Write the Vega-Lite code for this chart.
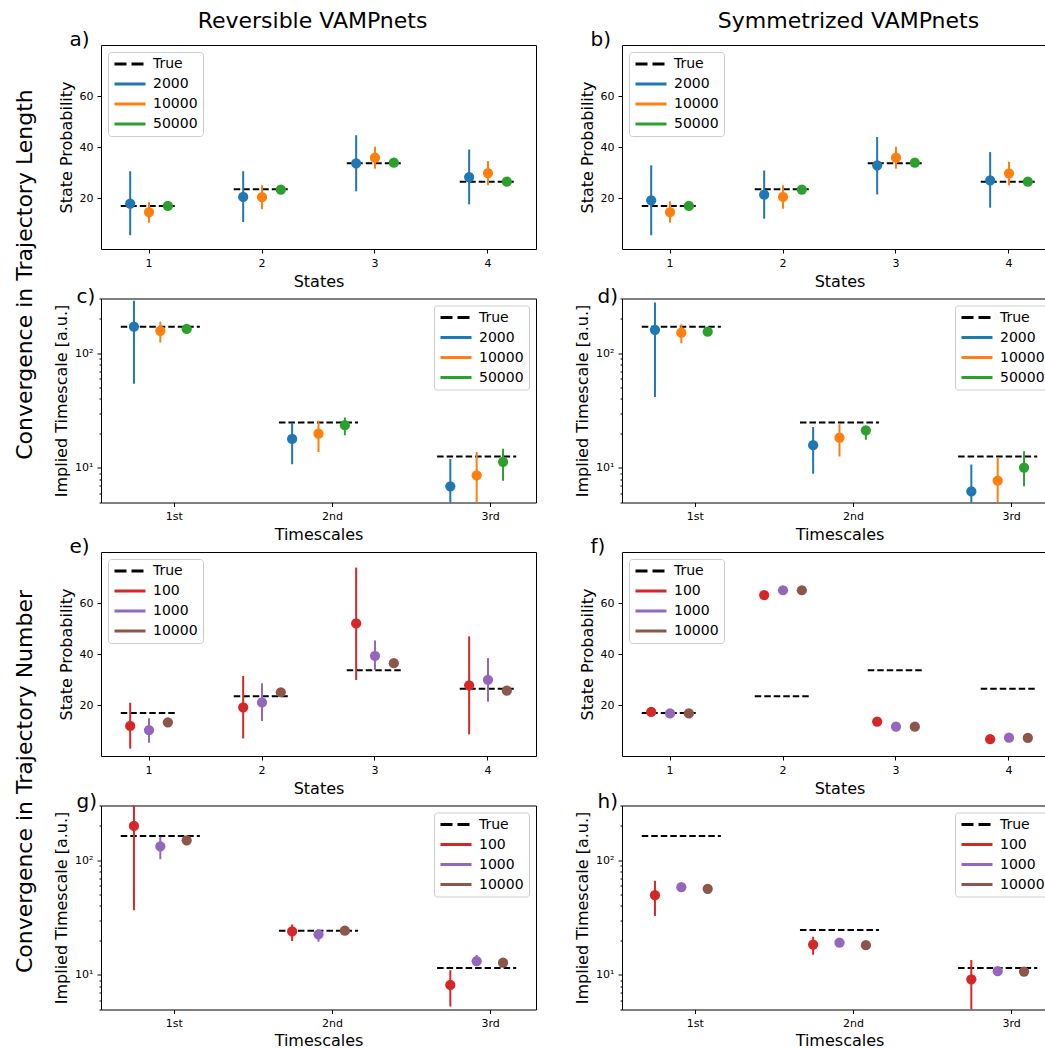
{
  "$schema": "https://vega.github.io/schema/vega-lite/v6.json",
  "background": "white",
  "padding": {"left": 12, "top": 8, "right": 0, "bottom": 0},
  "datasets": {
    "a": [
      {"state": "1", "series": "True", "value": 16.9},
      {"state": "2", "series": "True", "value": 23.4},
      {"state": "3", "series": "True", "value": 33.6},
      {"state": "4", "series": "True", "value": 26.4},
      {"state": "1", "series": "2000", "value": 17.8, "lo": 5.4, "hi": 30.5},
      {"state": "2", "series": "2000", "value": 20.4, "lo": 10.6, "hi": 30.5},
      {"state": "3", "series": "2000", "value": 33.6, "lo": 22.6, "hi": 44.6},
      {"state": "4", "series": "2000", "value": 28.2, "lo": 17.5, "hi": 39.0},
      {"state": "1", "series": "10000", "value": 14.5, "lo": 10.3, "hi": 18.4},
      {"state": "2", "series": "10000", "value": 20.3, "lo": 15.6, "hi": 25.0},
      {"state": "3", "series": "10000", "value": 35.8, "lo": 31.5, "hi": 40.1},
      {"state": "4", "series": "10000", "value": 29.8, "lo": 25.0, "hi": 34.5},
      {"state": "1", "series": "50000", "value": 16.9, "lo": 16.2, "hi": 17.6},
      {"state": "2", "series": "50000", "value": 23.3, "lo": 22.6, "hi": 24.0},
      {"state": "3", "series": "50000", "value": 33.9, "lo": 33.2, "hi": 34.6},
      {"state": "4", "series": "50000", "value": 26.4, "lo": 25.7, "hi": 27.1}
    ],
    "b": [
      {"state": "1", "series": "True", "value": 16.9},
      {"state": "2", "series": "True", "value": 23.4},
      {"state": "3", "series": "True", "value": 33.6},
      {"state": "4", "series": "True", "value": 26.4},
      {"state": "1", "series": "2000", "value": 19.1, "lo": 5.4, "hi": 32.8},
      {"state": "2", "series": "2000", "value": 21.3, "lo": 11.9, "hi": 30.8},
      {"state": "3", "series": "2000", "value": 32.8, "lo": 21.4, "hi": 43.9},
      {"state": "4", "series": "2000", "value": 26.9, "lo": 16.2, "hi": 38.0},
      {"state": "1", "series": "10000", "value": 14.5, "lo": 10.3, "hi": 18.7},
      {"state": "2", "series": "10000", "value": 20.4, "lo": 15.8, "hi": 25.0},
      {"state": "3", "series": "10000", "value": 35.8, "lo": 31.5, "hi": 40.1},
      {"state": "4", "series": "10000", "value": 29.7, "lo": 25.0, "hi": 34.2},
      {"state": "1", "series": "50000", "value": 16.9, "lo": 16.2, "hi": 17.6},
      {"state": "2", "series": "50000", "value": 23.3, "lo": 22.6, "hi": 24.0},
      {"state": "3", "series": "50000", "value": 33.9, "lo": 33.2, "hi": 34.6},
      {"state": "4", "series": "50000", "value": 26.4, "lo": 25.7, "hi": 27.1}
    ],
    "c": [
      {"ts": "1st", "series": "True", "value": 170},
      {"ts": "2nd", "series": "True", "value": 24.9},
      {"ts": "3rd", "series": "True", "value": 12.6},
      {"ts": "1st", "series": "2000", "value": 171, "lo": 54.3, "hi": 287},
      {"ts": "2nd", "series": "2000", "value": 17.9, "lo": 10.8, "hi": 24.8},
      {"ts": "3rd", "series": "2000", "value": 6.92, "lo": 4, "hi": 12.0},
      {"ts": "1st", "series": "10000", "value": 157, "lo": 124, "hi": 188},
      {"ts": "2nd", "series": "10000", "value": 19.9, "lo": 13.8, "hi": 25.8},
      {"ts": "3rd", "series": "10000", "value": 8.63, "lo": 4, "hi": 13.8},
      {"ts": "1st", "series": "50000", "value": 163, "lo": 158, "hi": 168},
      {"ts": "2nd", "series": "50000", "value": 23.6, "lo": 19.3, "hi": 27.5},
      {"ts": "3rd", "series": "50000", "value": 11.3, "lo": 7.74, "hi": 14.7}
    ],
    "d": [
      {"ts": "1st", "series": "True", "value": 170},
      {"ts": "2nd", "series": "True", "value": 24.9},
      {"ts": "3rd", "series": "True", "value": 12.6},
      {"ts": "1st", "series": "2000", "value": 160, "lo": 41.5, "hi": 277},
      {"ts": "2nd", "series": "2000", "value": 15.8, "lo": 8.9, "hi": 22.7},
      {"ts": "3rd", "series": "2000", "value": 6.25, "lo": 4, "hi": 10.7},
      {"ts": "1st", "series": "10000", "value": 151, "lo": 122, "hi": 179},
      {"ts": "2nd", "series": "10000", "value": 18.4, "lo": 12.6, "hi": 24.1},
      {"ts": "3rd", "series": "10000", "value": 7.74, "lo": 4, "hi": 12.4},
      {"ts": "1st", "series": "50000", "value": 154, "lo": 149, "hi": 159},
      {"ts": "2nd", "series": "50000", "value": 21.3, "lo": 17.6, "hi": 23.1},
      {"ts": "3rd", "series": "50000", "value": 10.07, "lo": 6.92, "hi": 14.0}
    ],
    "e": [
      {"state": "1", "series": "True", "value": 16.9},
      {"state": "2", "series": "True", "value": 23.4},
      {"state": "3", "series": "True", "value": 33.6},
      {"state": "4", "series": "True", "value": 26.4},
      {"state": "1", "series": "100", "value": 11.8, "lo": 2.9, "hi": 20.9},
      {"state": "2", "series": "100", "value": 19.1, "lo": 6.9, "hi": 31.4},
      {"state": "3", "series": "100", "value": 52.0, "lo": 29.8, "hi": 73.9},
      {"state": "4", "series": "100", "value": 27.7, "lo": 8.5, "hi": 46.9},
      {"state": "1", "series": "1000", "value": 10.1, "lo": 5.2, "hi": 14.8},
      {"state": "2", "series": "1000", "value": 21.0, "lo": 13.7, "hi": 28.5},
      {"state": "3", "series": "1000", "value": 39.3, "lo": 33.7, "hi": 45.3},
      {"state": "4", "series": "1000", "value": 29.9, "lo": 21.3, "hi": 38.4},
      {"state": "1", "series": "10000", "value": 13.2, "lo": 12.5, "hi": 13.9},
      {"state": "2", "series": "10000", "value": 25.0, "lo": 24.3, "hi": 25.7},
      {"state": "3", "series": "10000", "value": 36.4, "lo": 35.7, "hi": 37.1},
      {"state": "4", "series": "10000", "value": 25.6, "lo": 24.9, "hi": 26.3}
    ],
    "f": [
      {"state": "1", "series": "True", "value": 16.9},
      {"state": "2", "series": "True", "value": 23.4},
      {"state": "3", "series": "True", "value": 33.6},
      {"state": "4", "series": "True", "value": 26.4},
      {"state": "1", "series": "100", "value": 17.3, "lo": 16.8, "hi": 17.8},
      {"state": "2", "series": "100", "value": 63.1, "lo": 62.6, "hi": 63.6},
      {"state": "3", "series": "100", "value": 13.5, "lo": 13.0, "hi": 14.0},
      {"state": "4", "series": "100", "value": 6.6, "lo": 6.1, "hi": 7.1},
      {"state": "1", "series": "1000", "value": 16.7, "lo": 16.4, "hi": 17.0},
      {"state": "2", "series": "1000", "value": 65.0, "lo": 64.7, "hi": 65.3},
      {"state": "3", "series": "1000", "value": 11.5, "lo": 11.2, "hi": 11.8},
      {"state": "4", "series": "1000", "value": 7.2, "lo": 6.9, "hi": 7.5},
      {"state": "1", "series": "10000", "value": 16.7, "lo": 16.5, "hi": 16.9},
      {"state": "2", "series": "10000", "value": 65.0, "lo": 64.8, "hi": 65.2},
      {"state": "3", "series": "10000", "value": 11.5, "lo": 11.3, "hi": 11.7},
      {"state": "4", "series": "10000", "value": 7.1, "lo": 6.9, "hi": 7.3}
    ],
    "g": [
      {"ts": "1st", "series": "True", "value": 163},
      {"ts": "2nd", "series": "True", "value": 24.3},
      {"ts": "3rd", "series": "True", "value": 11.5},
      {"ts": "1st", "series": "100", "value": 199, "lo": 36.7, "hi": 330},
      {"ts": "2nd", "series": "100", "value": 24.0, "lo": 19.8, "hi": 27.6},
      {"ts": "3rd", "series": "100", "value": 8.19, "lo": 5.3, "hi": 11.0},
      {"ts": "1st", "series": "1000", "value": 132, "lo": 102, "hi": 160},
      {"ts": "2nd", "series": "1000", "value": 22.6, "lo": 19.5, "hi": 24.6},
      {"ts": "3rd", "series": "1000", "value": 13.2, "lo": 12.2, "hi": 14.9},
      {"ts": "1st", "series": "10000", "value": 149, "lo": 145, "hi": 153},
      {"ts": "2nd", "series": "10000", "value": 24.3, "lo": 23.8, "hi": 24.8},
      {"ts": "3rd", "series": "10000", "value": 12.8, "lo": 12.5, "hi": 13.1}
    ],
    "h": [
      {"ts": "1st", "series": "True", "value": 163},
      {"ts": "2nd", "series": "True", "value": 24.6},
      {"ts": "3rd", "series": "True", "value": 11.5},
      {"ts": "1st", "series": "100", "value": 49.6, "lo": 32.6, "hi": 66.1},
      {"ts": "2nd", "series": "100", "value": 18.4, "lo": 15.0, "hi": 21.5},
      {"ts": "3rd", "series": "100", "value": 9.17, "lo": 4, "hi": 13.5},
      {"ts": "1st", "series": "1000", "value": 58.2, "lo": 56.5, "hi": 60.0},
      {"ts": "2nd", "series": "1000", "value": 19.1, "lo": 18.6, "hi": 19.6},
      {"ts": "3rd", "series": "1000", "value": 10.8, "lo": 10.5, "hi": 11.1},
      {"ts": "1st", "series": "10000", "value": 56.3, "lo": 54.7, "hi": 58.0},
      {"ts": "2nd", "series": "10000", "value": 18.2, "lo": 17.7, "hi": 18.7},
      {"ts": "3rd", "series": "10000", "value": 10.7, "lo": 10.4, "hi": 11.0}
    ]
  },
  "columns": 2,
  "bounds": "flush",
  "spacing": {"row": 49.5, "column": 86},
  "resolve": {"scale": {"color": "independent", "xOffset": "independent", "x": "independent", "y": "independent"}, "legend": {"color": "independent"}},
  "concat": [
    {
      "width": 435, "height": 204,
      "data": {"name": "a"},
      "resolve": {"axis": {"x": "independent", "y": "independent"}},
      "layer": [
        {
          "transform": [{"filter": "datum.series === 'True'"}],
          "mark": {"type": "rule", "color": "black", "strokeWidth": 2, "strokeDash": [6.5, 3]},
          "encoding": {
            "x": {"field": "state", "type": "ordinal", "bandPosition": 0, "scale": {"type": "band", "domain": ["1", "2", "3", "4"], "paddingInner": 0.5, "paddingOuter": 0.175}, "axis": {"orient": "top", "title": "Reversible VAMPnets", "titleFontSize": 22, "titleX": 211, "titleY": -18, "titleAlign": "center", "titleBaseline": "alphabetic", "ticks": false, "labels": false, "domain": false}},
            "x2": {"field": "state", "bandPosition": 1},
            "y": {"field": "value", "type": "quantitative", "scale": {"domain": [0, 80], "nice": false}, "axis": {"orient": "left", "title": "Convergence in Trajectory Length", "titleFontSize": 22, "titleX": -70, "titleY": 229, "titleAngle": 270, "titleAlign": "center", "titleBaseline": "alphabetic", "ticks": false, "labels": false, "domain": false}}
          }
        },
        {
          "transform": [{"filter": "datum.series !== 'True'"}],
          "mark": {"type": "rule", "strokeWidth": 2, "clip": true},
          "encoding": {
            "x": {"field": "state", "type": "ordinal", "axis": {"orient": "top", "title": "a)", "titleFontSize": 20, "titleX": -32, "titleY": 0, "titleAlign": "left", "titleBaseline": "alphabetic", "ticks": false, "labels": false, "domain": false}},
            "xOffset": {"field": "series", "type": "nominal", "scale": {"domain": ["2000", "10000", "50000"], "paddingInner": 0, "paddingOuter": 0}},
            "y": {"field": "lo", "type": "quantitative", "axis": null},
            "y2": {"field": "hi"},
            "color": {"field": "series", "type": "nominal", "scale": {"domain": ["True", "2000", "10000", "50000"], "range": ["#000000", "#1f77b4", "#ff7f0e", "#2ca02c"]}, "legend": {"orient": "top-left", "title": null, "encode": {"symbols": {"update": {"strokeWidth": {"value": 3}, "strokeDash": {"signal": "datum.value === 'True' ? [12, 5] : []"}}}}}}
          }
        },
        {
          "transform": [{"filter": "datum.series !== 'True'"}],
          "mark": {"type": "circle", "size": 105, "opacity": 1},
          "encoding": {
            "x": {"field": "state", "type": "ordinal", "axis": {"orient": "bottom", "title": "States", "labelAngle": 0}},
            "xOffset": {"field": "series", "type": "nominal"},
            "y": {"field": "value", "type": "quantitative", "axis": {"orient": "left", "title": "State Probability", "values": [20, 40, 60]}},
            "color": {"field": "series", "type": "nominal", "legend": null}
          }
        }
      ]
    },
    {
      "width": 435, "height": 204,
      "data": {"name": "b"},
      "resolve": {"axis": {"x": "independent", "y": "independent"}},
      "layer": [
        {
          "transform": [{"filter": "datum.series === 'True'"}],
          "mark": {"type": "rule", "color": "black", "strokeWidth": 2, "strokeDash": [6.5, 3]},
          "encoding": {
            "x": {"field": "state", "type": "ordinal", "bandPosition": 0, "scale": {"type": "band", "domain": ["1", "2", "3", "4"], "paddingInner": 0.5, "paddingOuter": 0.175}, "axis": {"orient": "top", "title": "Symmetrized VAMPnets", "titleFontSize": 22, "titleX": 226, "titleY": -18, "titleAlign": "center", "titleBaseline": "alphabetic", "ticks": false, "labels": false, "domain": false}},
            "x2": {"field": "state", "bandPosition": 1},
            "y": {"field": "value", "type": "quantitative", "scale": {"domain": [0, 80], "nice": false}, "axis": null}
          }
        },
        {
          "transform": [{"filter": "datum.series !== 'True'"}],
          "mark": {"type": "rule", "strokeWidth": 2, "clip": true},
          "encoding": {
            "x": {"field": "state", "type": "ordinal", "axis": {"orient": "top", "title": "b)", "titleFontSize": 20, "titleX": -32, "titleY": 0, "titleAlign": "left", "titleBaseline": "alphabetic", "ticks": false, "labels": false, "domain": false}},
            "xOffset": {"field": "series", "type": "nominal", "scale": {"domain": ["2000", "10000", "50000"], "paddingInner": 0, "paddingOuter": 0}},
            "y": {"field": "lo", "type": "quantitative", "axis": null},
            "y2": {"field": "hi"},
            "color": {"field": "series", "type": "nominal", "scale": {"domain": ["True", "2000", "10000", "50000"], "range": ["#000000", "#1f77b4", "#ff7f0e", "#2ca02c"]}, "legend": {"orient": "top-left", "title": null, "encode": {"symbols": {"update": {"strokeWidth": {"value": 3}, "strokeDash": {"signal": "datum.value === 'True' ? [12, 5] : []"}}}}}}
          }
        },
        {
          "transform": [{"filter": "datum.series !== 'True'"}],
          "mark": {"type": "circle", "size": 105, "opacity": 1},
          "encoding": {
            "x": {"field": "state", "type": "ordinal", "axis": {"orient": "bottom", "title": "States", "labelAngle": 0}},
            "xOffset": {"field": "series", "type": "nominal"},
            "y": {"field": "value", "type": "quantitative", "axis": {"orient": "left", "title": "State Probability", "values": [20, 40, 60]}},
            "color": {"field": "series", "type": "nominal", "legend": null}
          }
        }
      ]
    },
    {
      "width": 435, "height": 204,
      "data": {"name": "c"},
      "resolve": {"axis": {"x": "independent", "y": "independent"}},
      "layer": [
        {
          "transform": [{"filter": "datum.series === 'True'"}],
          "mark": {"type": "rule", "color": "black", "strokeWidth": 2, "strokeDash": [6.5, 3]},
          "encoding": {
            "x": {"field": "ts", "type": "ordinal", "bandPosition": 0, "scale": {"type": "band", "domain": ["1st", "2nd", "3rd"], "paddingInner": 0.5, "paddingOuter": 0.125}, "axis": null},
            "x2": {"field": "ts", "bandPosition": 1},
            "y": {"field": "value", "type": "quantitative", "scale": {"type": "log", "domain": [5, 300], "nice": false}, "axis": null}
          }
        },
        {
          "transform": [{"filter": "datum.series !== 'True'"}],
          "mark": {"type": "rule", "strokeWidth": 2, "clip": true},
          "encoding": {
            "x": {"field": "ts", "type": "ordinal", "axis": {"orient": "top", "title": "c)", "titleFontSize": 20, "titleX": -25, "titleY": 4, "titleAlign": "left", "titleBaseline": "alphabetic", "ticks": false, "labels": false, "domain": false}},
            "xOffset": {"field": "series", "type": "nominal", "scale": {"domain": ["2000", "10000", "50000"], "paddingInner": 0, "paddingOuter": 0}},
            "y": {"field": "lo", "type": "quantitative", "axis": {"orient": "left", "values": [5, 6, 7, 8, 9, 20, 30, 40, 50, 60, 70, 80, 90, 200, 300], "tickSize": 2, "labels": false, "title": null, "domain": false}},
            "y2": {"field": "hi"},
            "color": {"field": "series", "type": "nominal", "scale": {"domain": ["True", "2000", "10000", "50000"], "range": ["#000000", "#1f77b4", "#ff7f0e", "#2ca02c"]}, "legend": {"orient": "top-right", "title": null, "encode": {"symbols": {"update": {"strokeWidth": {"value": 3}, "strokeDash": {"signal": "datum.value === 'True' ? [12, 5] : []"}}}}}}
          }
        },
        {
          "transform": [{"filter": "datum.series !== 'True'"}],
          "mark": {"type": "circle", "size": 105, "opacity": 1},
          "encoding": {
            "x": {"field": "ts", "type": "ordinal", "axis": {"orient": "bottom", "title": "Timescales", "labelAngle": 0, "tickOffset": 13.4}},
            "xOffset": {"field": "series", "type": "nominal"},
            "y": {"field": "value", "type": "quantitative", "axis": {"orient": "left", "title": "Implied Timescale [a.u.]", "values": [10, 100], "labelExpr": "datum.value == 10 ? '10¹' : '10²'"}},
            "color": {"field": "series", "type": "nominal", "legend": null}
          }
        }
      ]
    },
    {
      "width": 435, "height": 204,
      "data": {"name": "d"},
      "resolve": {"axis": {"x": "independent", "y": "independent"}},
      "layer": [
        {
          "transform": [{"filter": "datum.series === 'True'"}],
          "mark": {"type": "rule", "color": "black", "strokeWidth": 2, "strokeDash": [6.5, 3]},
          "encoding": {
            "x": {"field": "ts", "type": "ordinal", "bandPosition": 0, "scale": {"type": "band", "domain": ["1st", "2nd", "3rd"], "paddingInner": 0.5, "paddingOuter": 0.125}, "axis": null},
            "x2": {"field": "ts", "bandPosition": 1},
            "y": {"field": "value", "type": "quantitative", "scale": {"type": "log", "domain": [5, 300], "nice": false}, "axis": null}
          }
        },
        {
          "transform": [{"filter": "datum.series !== 'True'"}],
          "mark": {"type": "rule", "strokeWidth": 2, "clip": true},
          "encoding": {
            "x": {"field": "ts", "type": "ordinal", "axis": {"orient": "top", "title": "d)", "titleFontSize": 20, "titleX": -25, "titleY": 4, "titleAlign": "left", "titleBaseline": "alphabetic", "ticks": false, "labels": false, "domain": false}},
            "xOffset": {"field": "series", "type": "nominal", "scale": {"domain": ["2000", "10000", "50000"], "paddingInner": 0, "paddingOuter": 0}},
            "y": {"field": "lo", "type": "quantitative", "axis": {"orient": "left", "values": [5, 6, 7, 8, 9, 20, 30, 40, 50, 60, 70, 80, 90, 200, 300], "tickSize": 2, "labels": false, "title": null, "domain": false}},
            "y2": {"field": "hi"},
            "color": {"field": "series", "type": "nominal", "scale": {"domain": ["True", "2000", "10000", "50000"], "range": ["#000000", "#1f77b4", "#ff7f0e", "#2ca02c"]}, "legend": {"orient": "top-right", "title": null, "encode": {"symbols": {"update": {"strokeWidth": {"value": 3}, "strokeDash": {"signal": "datum.value === 'True' ? [12, 5] : []"}}}}}}
          }
        },
        {
          "transform": [{"filter": "datum.series !== 'True'"}],
          "mark": {"type": "circle", "size": 105, "opacity": 1},
          "encoding": {
            "x": {"field": "ts", "type": "ordinal", "axis": {"orient": "bottom", "title": "Timescales", "labelAngle": 0, "tickOffset": 13.4}},
            "xOffset": {"field": "series", "type": "nominal"},
            "y": {"field": "value", "type": "quantitative", "axis": {"orient": "left", "title": "Implied Timescale [a.u.]", "values": [10, 100], "labelExpr": "datum.value == 10 ? '10¹' : '10²'"}},
            "color": {"field": "series", "type": "nominal", "legend": null}
          }
        }
      ]
    },
    {
      "width": 435, "height": 204,
      "data": {"name": "e"},
      "resolve": {"axis": {"x": "independent", "y": "independent"}},
      "layer": [
        {
          "transform": [{"filter": "datum.series === 'True'"}],
          "mark": {"type": "rule", "color": "black", "strokeWidth": 2, "strokeDash": [6.5, 3]},
          "encoding": {
            "x": {"field": "state", "type": "ordinal", "bandPosition": 0, "scale": {"type": "band", "domain": ["1", "2", "3", "4"], "paddingInner": 0.5, "paddingOuter": 0.175}, "axis": null},
            "x2": {"field": "state", "bandPosition": 1},
            "y": {"field": "value", "type": "quantitative", "scale": {"domain": [0, 80], "nice": false}, "axis": {"orient": "left", "title": "Convergence in Trajectory Number", "titleFontSize": 22, "titleX": -70, "titleY": 229, "titleAngle": 270, "titleAlign": "center", "titleBaseline": "alphabetic", "ticks": false, "labels": false, "domain": false}}
          }
        },
        {
          "transform": [{"filter": "datum.series !== 'True'"}],
          "mark": {"type": "rule", "strokeWidth": 2, "clip": true},
          "encoding": {
            "x": {"field": "state", "type": "ordinal", "axis": {"orient": "top", "title": "e)", "titleFontSize": 20, "titleX": -32, "titleY": 0, "titleAlign": "left", "titleBaseline": "alphabetic", "ticks": false, "labels": false, "domain": false}},
            "xOffset": {"field": "series", "type": "nominal", "scale": {"domain": ["100", "1000", "10000"], "paddingInner": 0, "paddingOuter": 0}},
            "y": {"field": "lo", "type": "quantitative", "axis": null},
            "y2": {"field": "hi"},
            "color": {"field": "series", "type": "nominal", "scale": {"domain": ["True", "100", "1000", "10000"], "range": ["#000000", "#d62728", "#9467bd", "#8c564b"]}, "legend": {"orient": "top-left", "title": null, "encode": {"symbols": {"update": {"strokeWidth": {"value": 3}, "strokeDash": {"signal": "datum.value === 'True' ? [12, 5] : []"}}}}}}
          }
        },
        {
          "transform": [{"filter": "datum.series !== 'True'"}],
          "mark": {"type": "circle", "size": 105, "opacity": 1},
          "encoding": {
            "x": {"field": "state", "type": "ordinal", "axis": {"orient": "bottom", "title": "States", "labelAngle": 0}},
            "xOffset": {"field": "series", "type": "nominal"},
            "y": {"field": "value", "type": "quantitative", "axis": {"orient": "left", "title": "State Probability", "values": [20, 40, 60]}},
            "color": {"field": "series", "type": "nominal", "legend": null}
          }
        }
      ]
    },
    {
      "width": 435, "height": 204,
      "data": {"name": "f"},
      "resolve": {"axis": {"x": "independent", "y": "independent"}},
      "layer": [
        {
          "transform": [{"filter": "datum.series === 'True'"}],
          "mark": {"type": "rule", "color": "black", "strokeWidth": 2, "strokeDash": [6.5, 3]},
          "encoding": {
            "x": {"field": "state", "type": "ordinal", "bandPosition": 0, "scale": {"type": "band", "domain": ["1", "2", "3", "4"], "paddingInner": 0.5, "paddingOuter": 0.175}, "axis": null},
            "x2": {"field": "state", "bandPosition": 1},
            "y": {"field": "value", "type": "quantitative", "scale": {"domain": [0, 80], "nice": false}, "axis": null}
          }
        },
        {
          "transform": [{"filter": "datum.series !== 'True'"}],
          "mark": {"type": "rule", "strokeWidth": 2, "clip": true},
          "encoding": {
            "x": {"field": "state", "type": "ordinal", "axis": {"orient": "top", "title": "f)", "titleFontSize": 20, "titleX": -32, "titleY": 0, "titleAlign": "left", "titleBaseline": "alphabetic", "ticks": false, "labels": false, "domain": false}},
            "xOffset": {"field": "series", "type": "nominal", "scale": {"domain": ["100", "1000", "10000"], "paddingInner": 0, "paddingOuter": 0}},
            "y": {"field": "lo", "type": "quantitative", "axis": null},
            "y2": {"field": "hi"},
            "color": {"field": "series", "type": "nominal", "scale": {"domain": ["True", "100", "1000", "10000"], "range": ["#000000", "#d62728", "#9467bd", "#8c564b"]}, "legend": {"orient": "top-left", "title": null, "encode": {"symbols": {"update": {"strokeWidth": {"value": 3}, "strokeDash": {"signal": "datum.value === 'True' ? [12, 5] : []"}}}}}}
          }
        },
        {
          "transform": [{"filter": "datum.series !== 'True'"}],
          "mark": {"type": "circle", "size": 105, "opacity": 1},
          "encoding": {
            "x": {"field": "state", "type": "ordinal", "axis": {"orient": "bottom", "title": "States", "labelAngle": 0}},
            "xOffset": {"field": "series", "type": "nominal"},
            "y": {"field": "value", "type": "quantitative", "axis": {"orient": "left", "title": "State Probability", "values": [20, 40, 60]}},
            "color": {"field": "series", "type": "nominal", "legend": null}
          }
        }
      ]
    },
    {
      "width": 435, "height": 204,
      "data": {"name": "g"},
      "resolve": {"axis": {"x": "independent", "y": "independent"}},
      "layer": [
        {
          "transform": [{"filter": "datum.series === 'True'"}],
          "mark": {"type": "rule", "color": "black", "strokeWidth": 2, "strokeDash": [6.5, 3]},
          "encoding": {
            "x": {"field": "ts", "type": "ordinal", "bandPosition": 0, "scale": {"type": "band", "domain": ["1st", "2nd", "3rd"], "paddingInner": 0.5, "paddingOuter": 0.125}, "axis": null},
            "x2": {"field": "ts", "bandPosition": 1},
            "y": {"field": "value", "type": "quantitative", "scale": {"type": "log", "domain": [5, 300], "nice": false}, "axis": null}
          }
        },
        {
          "transform": [{"filter": "datum.series !== 'True'"}],
          "mark": {"type": "rule", "strokeWidth": 2, "clip": true},
          "encoding": {
            "x": {"field": "ts", "type": "ordinal", "axis": {"orient": "top", "title": "g)", "titleFontSize": 20, "titleX": -25, "titleY": 2, "titleAlign": "left", "titleBaseline": "alphabetic", "ticks": false, "labels": false, "domain": false}},
            "xOffset": {"field": "series", "type": "nominal", "scale": {"domain": ["100", "1000", "10000"], "paddingInner": 0, "paddingOuter": 0}},
            "y": {"field": "lo", "type": "quantitative", "axis": {"orient": "left", "values": [5, 6, 7, 8, 9, 20, 30, 40, 50, 60, 70, 80, 90, 200, 300], "tickSize": 2, "labels": false, "title": null, "domain": false}},
            "y2": {"field": "hi"},
            "color": {"field": "series", "type": "nominal", "scale": {"domain": ["True", "100", "1000", "10000"], "range": ["#000000", "#d62728", "#9467bd", "#8c564b"]}, "legend": {"orient": "top-right", "title": null, "encode": {"symbols": {"update": {"strokeWidth": {"value": 3}, "strokeDash": {"signal": "datum.value === 'True' ? [12, 5] : []"}}}}}}
          }
        },
        {
          "transform": [{"filter": "datum.series !== 'True'"}],
          "mark": {"type": "circle", "size": 105, "opacity": 1},
          "encoding": {
            "x": {"field": "ts", "type": "ordinal", "axis": {"orient": "bottom", "title": "Timescales", "labelAngle": 0, "tickOffset": 13.4, "titlePadding": 4}},
            "xOffset": {"field": "series", "type": "nominal"},
            "y": {"field": "value", "type": "quantitative", "axis": {"orient": "left", "title": "Implied Timescale [a.u.]", "values": [10, 100], "labelExpr": "datum.value == 10 ? '10¹' : '10²'"}},
            "color": {"field": "series", "type": "nominal", "legend": null}
          }
        }
      ]
    },
    {
      "width": 435, "height": 204,
      "data": {"name": "h"},
      "resolve": {"axis": {"x": "independent", "y": "independent"}},
      "layer": [
        {
          "transform": [{"filter": "datum.series === 'True'"}],
          "mark": {"type": "rule", "color": "black", "strokeWidth": 2, "strokeDash": [6.5, 3]},
          "encoding": {
            "x": {"field": "ts", "type": "ordinal", "bandPosition": 0, "scale": {"type": "band", "domain": ["1st", "2nd", "3rd"], "paddingInner": 0.5, "paddingOuter": 0.125}, "axis": null},
            "x2": {"field": "ts", "bandPosition": 1},
            "y": {"field": "value", "type": "quantitative", "scale": {"type": "log", "domain": [5, 300], "nice": false}, "axis": null}
          }
        },
        {
          "transform": [{"filter": "datum.series !== 'True'"}],
          "mark": {"type": "rule", "strokeWidth": 2, "clip": true},
          "encoding": {
            "x": {"field": "ts", "type": "ordinal", "axis": {"orient": "top", "title": "h)", "titleFontSize": 20, "titleX": -25, "titleY": 2, "titleAlign": "left", "titleBaseline": "alphabetic", "ticks": false, "labels": false, "domain": false}},
            "xOffset": {"field": "series", "type": "nominal", "scale": {"domain": ["100", "1000", "10000"], "paddingInner": 0, "paddingOuter": 0}},
            "y": {"field": "lo", "type": "quantitative", "axis": {"orient": "left", "values": [5, 6, 7, 8, 9, 20, 30, 40, 50, 60, 70, 80, 90, 200, 300], "tickSize": 2, "labels": false, "title": null, "domain": false}},
            "y2": {"field": "hi"},
            "color": {"field": "series", "type": "nominal", "scale": {"domain": ["True", "100", "1000", "10000"], "range": ["#000000", "#d62728", "#9467bd", "#8c564b"]}, "legend": {"orient": "top-right", "title": null, "encode": {"symbols": {"update": {"strokeWidth": {"value": 3}, "strokeDash": {"signal": "datum.value === 'True' ? [12, 5] : []"}}}}}}
          }
        },
        {
          "transform": [{"filter": "datum.series !== 'True'"}],
          "mark": {"type": "circle", "size": 105, "opacity": 1},
          "encoding": {
            "x": {"field": "ts", "type": "ordinal", "axis": {"orient": "bottom", "title": "Timescales", "labelAngle": 0, "tickOffset": 13.4, "titlePadding": 4}},
            "xOffset": {"field": "series", "type": "nominal"},
            "y": {"field": "value", "type": "quantitative", "axis": {"orient": "left", "title": "Implied Timescale [a.u.]", "values": [10, 100], "labelExpr": "datum.value == 10 ? '10¹' : '10²'"}},
            "color": {"field": "series", "type": "nominal", "legend": null}
          }
        }
      ]
    }
  ],
  "config": {
    "font": "DejaVu Sans",
    "view": {"stroke": "black", "strokeWidth": 1},
    "axis": {"grid": false, "domain": false, "tickColor": "black", "tickWidth": 1, "tickSize": 4, "labelColor": "black", "labelFont": "DejaVu Sans", "labelFontSize": 11, "labelPadding": 4, "titleFont": "DejaVu Sans", "titleFontSize": 16, "titleFontWeight": "normal", "titleColor": "black", "titlePadding": 5},
    "legend": {"padding": 5, "offset": 7, "fillColor": "rgba(255,255,255,0.8)", "strokeColor": "#cccccc", "cornerRadius": 3, "symbolType": "stroke", "symbolSize": 961, "symbolStrokeWidth": 3, "clipHeight": 14, "rowPadding": 6, "labelOffset": 6, "labelFont": "DejaVu Sans", "labelFontSize": 14, "labelColor": "black"}
  }
}
